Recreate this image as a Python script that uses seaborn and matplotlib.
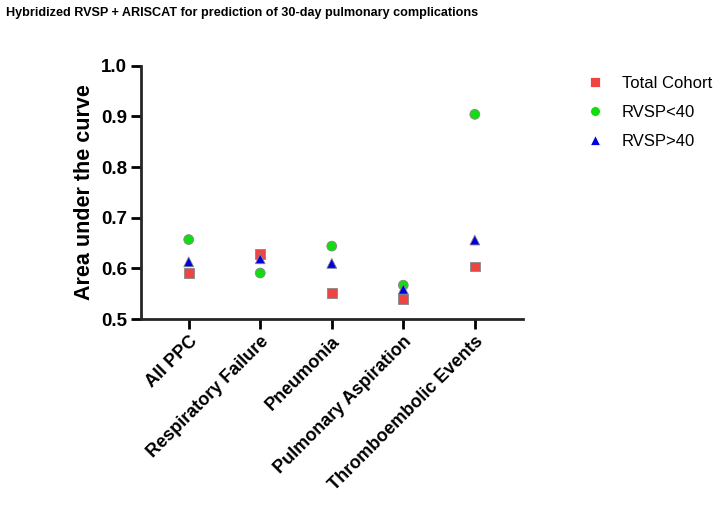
import pandas as pd
import matplotlib
matplotlib.use("Agg")
import matplotlib.pyplot as plt
import seaborn as sns

# values
outcomes = ["All PPC", "Respiratory Failure", "Pneumonia", "Pulmonary Aspiration", "Thromboembolic Events"]
total_cohort = [0.591, 0.629, 0.552, 0.539, 0.604]
rvsp_low = [0.657, 0.591, 0.644, 0.567, 0.904]
rvsp_high = [0.613, 0.619, 0.610, 0.559, 0.656]
groups = ["Total Cohort", "RVSP<40", "RVSP>40"]

sns.set_style("ticks")
plt.rcParams['font.family'] = ['Liberation Sans', 'DejaVu Sans']
plt.rcParams['text.color'] = 'black'
plt.rcParams['axes.labelcolor'] = 'black'
plt.rcParams['xtick.color'] = 'black'
plt.rcParams['ytick.color'] = 'black'

df = pd.DataFrame({
    "outcome": outcomes * 3,
    "auc": total_cohort + rvsp_low + rvsp_high,
    "group": [groups[0]] * 5 + [groups[1]] * 5 + [groups[2]] * 5,
})

fig = plt.figure(figsize=(7.22, 5.09), dpi=100)
ax = fig.add_axes([0.195, 0.373, 0.529, 0.498])

sns.scatterplot(data=df, x="outcome", y="auc", hue="group", style="group",
                hue_order=groups, style_order=groups,
                palette={"Total Cohort": "#ee4444", "RVSP<40": "#11dd11", "RVSP>40": "#0000dd"},
                markers={"Total Cohort": "s", "RVSP<40": "o", "RVSP>40": "^"},
                s=50, ax=ax, zorder=3)

# edge colours to match the reference look
for coll, ec in zip(ax.collections, ["#888888", "#33aa33", "#0000dd"]):
    coll.set_edgecolor(ec)
    coll.set_linewidth(0.6)

ax.set_ylim(0.5, 1.0)
ax.set_xlim(-0.67, 4.67)
ax.set_yticks([0.5, 0.6, 0.7, 0.8, 0.9, 1.0])
ax.set_yticklabels(["0.5", "0.6", "0.7", "0.8", "0.9", "1.0"], fontsize=13.5, fontweight="bold")
ax.set_xticks(range(len(outcomes)))
ax.set_xticklabels(outcomes, rotation=45, ha="right", rotation_mode="anchor",
                   fontsize=13, fontweight="bold")
ax.set_xlabel("")
ax.set_ylabel("Area under the curve", fontsize=15.5, fontweight="bold", labelpad=4)
ax.tick_params(width=2, length=7, color="black", pad=3)
sns.despine(ax=ax)
for sp in ["left", "bottom"]:
    ax.spines[sp].set_linewidth(2)

leg = ax.legend(loc="upper left", bbox_to_anchor=(1.116, 1.006), frameon=False,
                fontsize=12, handletextpad=0.6, labelspacing=0.85, markerscale=1.0,
                borderaxespad=0.3)

fig.text(0.008, 0.975, "Hybridized RVSP + ARISCAT for prediction of 30-day pulmonary complications",
         fontsize=9.1, fontweight="bold", va="center", ha="left")

fig.savefig("out.png", dpi=100)
